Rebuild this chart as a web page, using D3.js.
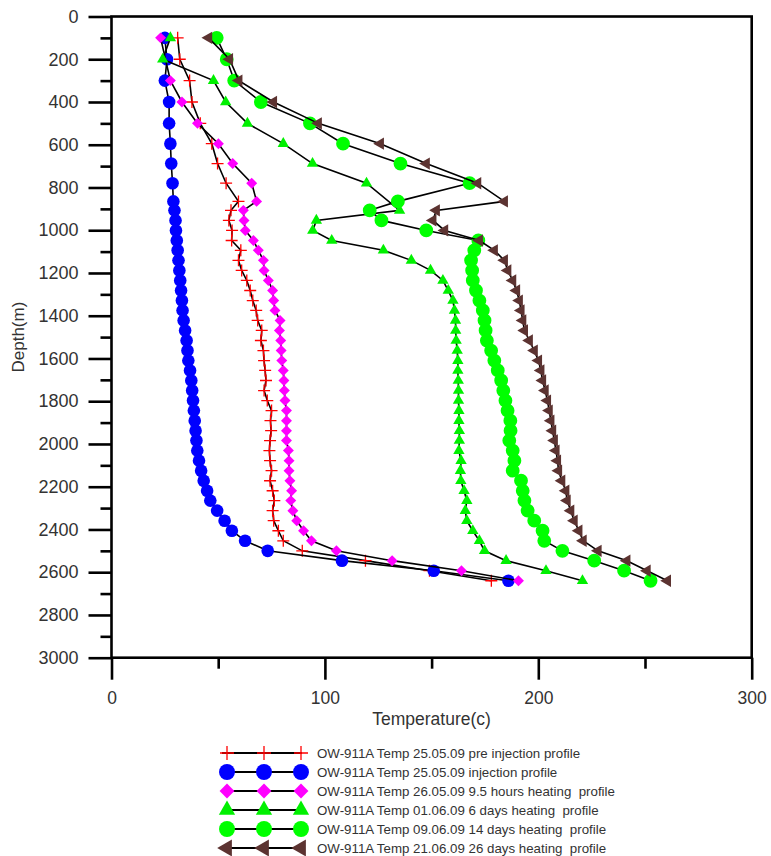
<!DOCTYPE html>
<html><head><meta charset="utf-8">
<script src="https://cdn.jsdelivr.net/npm/d3@7"></script>
<style>body{margin:0;background:#fff;} text{font-family:"Liberation Sans",Arial,sans-serif;white-space:pre;}</style>
</head><body>
<svg id="c" width="771" height="856"></svg>
<script>
// ---- data ----
const depths = [100,200,300,400,500,595,688,780,865,907,954,1001,1048,1094,1141,1188,1235,1282,1329,1375,1422,1469,1516,1563,1610,1656,1703,1750,1797,1844,1891,1938,1984,2031,2078,2125,2172,2219,2265,2312,2359,2406,2453,2500,2546,2593,2640];
const preInjection = [31,32,36.6,37.7,41.6,47,49.7,53.7,59.5, 56,55,56.5,56.3,60.6,59.5,61,63.4,65,66.2, 67.8,68.5,70.4,70,71.2,71.5,72,72.4,71.5,73, 75,74.5,74.8,74.3,74,74.3,75,74.3,75.5,76.3, 75.5,76,78.2,80.5,89.4,119,149,178];
const injection = [25,26,25,27,27,27.6,28,28.6,29, 29.5,30,30.2,30.6,31,31.4,31.8,32.2,32.6,33, 33.3,33.8,34.5,35.2,35.6,36,36.8,37.4,37.8,38.2, 38.6,39,39.4,39.8,40.2,41,42,43.2,44.8,46.3, 49.5,53,56.4,62.6,73.2,108,151,186];
const heating9h = [23,null,27.6,33,40.3,50.1,56.8,65.7,68, 61.8,62.1,62.7,66.5,68.8,71.2,71.5,73.5,75.5,76, 76.6,79,78.7,79.3,79.5,79.8,80.5,80.8,81,81.3, 82,82,82,82,82.9,83.2,83.2,83.6,84.4,84, 85,86.8,90,93.7,105.4,131.5,164,190.7];
const heating6d = [27.6,24,47.8,53.5,63.7,80.5,94.2,119.5,null, 135,96,94.3,103.2,127.4,140.5,149.5,155.3,157.8,160, 160.7,161.2,161.3,161.5,162,162.3,162.3,162.5,162.6,162.6, 162.8,162.8,163,163,162.8,163.8,163.5,163.7,165.2,166.5, 165.8,166.5,169.3,172.4,174.8,184.9,203.6,220.7];
const heating14d = [49.3,54,57.5,70,93,108.5,135.4,167.8,134.2, 121,126.5,147.5,171.9,170,168.5,169,169.3,170.8,172.4, 174,174.8,175.3,175.9,177.9,179.4,181,182.6,183.6,184.6, 185.6,186.9,187,186.4,188,188.8,188,191.9,192.7,193.5, 195,198.1,202,202.8,211.3,226.2,240.2,252.6];
const heating26d = [45.5,55.3,59.7,75.9,96.9,126,147.5,171.6,184.1, 152.2,150.6,156.1,172.4,179.4,184.1,185.7,188,189.8,191.1, 191.9,192.7,193.5,195.8,198.1,200.1,201.2,202,203.2,204.3, 205.1,205.9,206.7,207.5,208.3,209,209.5,211,212.9,213.5, 215.2,216.8,219,221,228,241.5,251,260.5];
const seriesNames = [
  "OW-911A Temp 25.05.09 pre injection profile",
  "OW-911A Temp 25.05.09 injection profile",
  "OW-911A Temp 26.05.09 9.5 hours heating  profile",
  "OW-911A Temp 01.06.09 6 days heating  profile",
  "OW-911A Temp 09.06.09 14 days heating  profile",
  "OW-911A Temp 21.06.09 26 days heating  profile"
];
const seriesValues = [preInjection, injection, heating9h, heating6d, heating14d, heating26d];
const xTickLabels = [0,100,200,300];
const xMinorTicks = [50,150,250];
const yTickLabels = [0,200,400,600,800,1000,1200,1400,1600,1800,2000,2200,2400,2600,2800,3000];
const yMinorTicks = [100,300,500,700,900,1100,1300,1500,1700,1900,2100,2300,2500,2700,2900];

// ---- styles ----
const styles = [
  {type:"plus", color:"#ff0000", size:6, lsize:7},
  {type:"circle", color:"#0000ff", size:125, lsize:200},
  {type:"diamond", color:"#ff00ff", size:60, lsize:110},
  {type:"triangle", color:"#00f000", size:56, lsize:115},
  {type:"circle", color:"#00ff00", size:150, lsize:200},
  {type:"ltriangle", color:"#5c3331", size:66, lsize:125}
];

const svg = d3.select("#c");
const x = d3.scaleLinear().domain([0,300]).range([111.5,751.7]);
const y = d3.scaleLinear().domain([0,3000]).range([16.5,657.7]);

function drawMarker(sel, st, big){
  const sz = big ? st.lsize : st.size;
  if(st.type==="plus"){
    sel.append("path").attr("d",`M${-sz},0H${sz}M0,${-sz}V${sz}`)
      .attr("stroke",st.color).attr("stroke-width",1.3).attr("fill","none");
  } else {
    let sym = d3.symbolCircle, rot = 0;
    if(st.type==="diamond"){sym=d3.symbolSquare; rot=45;}
    if(st.type==="triangle"){sym=d3.symbolTriangle;}
    if(st.type==="ltriangle"){sym=d3.symbolTriangle; rot=-90;}
    sel.append("path").attr("d",d3.symbol(sym,sz)()).attr("transform",`rotate(${rot})`)
      .attr("fill",st.color);
  }
}

// ---- axes ----
const gyMinor = svg.append("g").attr("transform",`translate(${x(0)},0)`)
  .call(d3.axisLeft(y).tickValues(yMinorTicks).tickSize(11).tickFormat(""));
const gy = svg.append("g").attr("transform",`translate(${x(0)},0)`)
  .call(d3.axisLeft(y).tickValues(yTickLabels).tickSize(23).tickPadding(10).tickFormat(d3.format("d")));
const gxMinor = svg.append("g").attr("transform",`translate(0,${y(3000)})`)
  .call(d3.axisBottom(x).tickValues(xMinorTicks).tickSize(11).tickFormat(""));
const gx = svg.append("g").attr("transform",`translate(0,${y(3000)})`)
  .call(d3.axisBottom(x).tickValues(xTickLabels).tickSize(22).tickPadding(12).tickFormat(d3.format("d")));
[gyMinor,gy,gxMinor,gx].forEach(g=>{
  g.select(".domain").remove();
  g.selectAll("line").attr("stroke","#000").attr("stroke-width",2.6);
  g.selectAll("text").attr("fill","#333").attr("font-family","Liberation Sans, Arial, sans-serif");
});
gy.selectAll("text").attr("font-size",18);
gx.selectAll("text").attr("font-size",17.5);

svg.append("rect").attr("x",x(0)).attr("y",y(0)).attr("width",x(300)-x(0)).attr("height",y(3000)-y(0))
  .attr("fill","none").attr("stroke","#000").attr("stroke-width",2.6);

svg.append("text").attr("transform",`translate(24,${(y(0)+y(3000))/2}) rotate(-90)`)
  .attr("text-anchor","middle").attr("font-size",17).attr("fill","#333").text("Depth(m)");
svg.append("text").attr("x",(x(0)+x(300))/2).attr("y",725)
  .attr("text-anchor","middle").attr("font-size",17.5).attr("fill","#333").text("Temperature(c)");

// ---- series ----
const line = d3.line().x(d=>x(d.t)).y(d=>y(d.d));
seriesValues.forEach((vals,i)=>{
  const pts = depths.map((d,j)=>({d:d,t:vals[j]})).filter(p=>p.t!==null);
  const g = svg.append("g");
  g.append("path").datum(pts).attr("d",line).attr("fill","none").attr("stroke","#000").attr("stroke-width",1.6);
  g.selectAll("g.m").data(pts).join("g").attr("class","m")
    .attr("transform",p=>`translate(${x(p.t)},${y(p.d)})`)
    .each(function(){ drawMarker(d3.select(this), styles[i], false); });
});

// ---- legend ----
const leg = svg.append("g");
seriesNames.forEach((name,i)=>{
  const ly = 753 + i*19;
  const row = leg.append("g").attr("transform",`translate(0,${ly})`);
  row.append("line").attr("x1",222).attr("x2",302).attr("y1",0).attr("y2",0).attr("stroke","#000").attr("stroke-width",2);
  [227,264,301].forEach(mx=>{
    const m = row.append("g").attr("transform",`translate(${mx},0)`);
    drawMarker(m, styles[i], true);
  });
  row.append("text").attr("x",317).attr("y",4.5).attr("font-size",13.3).attr("fill","#333")
    .attr("xml:space","preserve").text(name);
});
</script>
</body></html>
